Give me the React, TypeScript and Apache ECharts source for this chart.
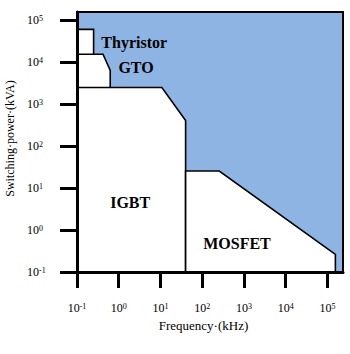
import { useEffect, useRef } from 'react';
import * as echarts from 'echarts';

// Axis ticks (kHz / kVA), log scale
const xTicks = [0.1, 1, 10, 100, 1000, 10000, 100000];
const yTicks = [0.1, 1, 10, 100, 1000, 10000, 100000];
const xMin = 0.1;
const xMax = 236000;
const yMin = 0.1;
const yMax = 158000;

// Device operating regions (frequency kHz, power kVA)
const thyristorF = [0.1, 0.25, 0.25, 0.1];
const thyristorP = [61000, 61000, 0.1, 0.1];
const gtoF = [0.1, 0.42, 0.625, 0.625, 0.1];
const gtoP = [15500, 15500, 6400, 0.1, 0.1];
const igbtF = [0.1, 10.8, 40, 40, 0.1];
const igbtP = [2500, 2500, 410, 0.1, 0.1];
const mosfetF = [40, 40, 256, 155000, 155000];
const mosfetP = [0.1, 25.6, 25.6, 0.264, 0.1];

// Region labels
const labelNames = ['Thyristor', 'GTO', 'IGBT', 'MOSFET'];
const labelF = [2.35, 2.6, 1.88, 680];
const labelP = [30000, 7600, 4.6, 0.48];

const FONT = 'Liberation Serif, Times New Roman, serif';

function polygonSeries(name: string, fs: number[], ps: number[]) {
  return {
    type: 'custom',
    name,
    coordinateSystem: 'cartesian2d',
    silent: true,
    clip: true,
    data: [[fs[0], ps[0]]],
    renderItem: (_params: any, api: any) => ({
      type: 'polygon',
      shape: { points: fs.map((f, i) => api.coord([f, ps[i]])) },
      style: { fill: '#ffffff', stroke: '#000000', lineWidth: 1.6 },
    }),
  };
}

const expFmt = (v: number) => `10{sup|${Math.round(Math.log10(v))}}`;

const labelStyle = {
  fontFamily: FONT,
  fontSize: 12,
  color: '#000',
  rich: {
    sup: { fontFamily: FONT, fontSize: 8, color: '#000', verticalAlign: 'top' },
  },
};

export default function App() {
  const ref = useRef<HTMLDivElement>(null);
  useEffect(() => {
    if (!ref.current) return;
    const chart = echarts.init(ref.current, null, { renderer: 'svg' });
    chart.setOption({
      animation: false,
      backgroundColor: '#ffffff',
      textStyle: { fontFamily: FONT },
      grid: {
        left: 77,
        right: 7,
        top: 12,
        bottom: 82,
        containLabel: false,
        outerBoundsMode: 'none',
        show: true,
        backgroundColor: '#8db4e2',
        borderColor: '#000',
        borderWidth: 2,
      },
      xAxis: {
        type: 'log',
        logBase: 10,
        min: xMin,
        max: xMax,
        z: 10,
        name: 'Frequency·(kHz)',
        nameLocation: 'middle',
        nameGap: 46,
        nameTextStyle: { fontFamily: FONT, fontSize: 13, color: '#000', padding: [0, 13, 0, 0] },
        axisLine: { lineStyle: { color: '#000', width: 3 } },
        axisTick: { show: true, length: 16, customValues: xTicks, lineStyle: { color: '#000', width: 3 } },
        axisLabel: { ...labelStyle, customValues: xTicks, margin: 30, formatter: expFmt },
        splitLine: { show: false },
        minorTick: { show: false },
      },
      yAxis: {
        type: 'log',
        logBase: 10,
        min: yMin,
        max: yMax,
        z: 10,
        name: 'Switching·power·(kVA)',
        nameLocation: 'middle',
        nameGap: 61,
        nameTextStyle: { fontFamily: FONT, fontSize: 12, color: '#000', padding: [0, 0, 0, 7] },
        axisLine: { lineStyle: { color: '#000', width: 3 } },
        axisTick: { show: true, length: 17, customValues: yTicks, lineStyle: { color: '#000', width: 3 } },
        axisLabel: { ...labelStyle, customValues: yTicks, margin: 50, align: 'left', formatter: expFmt },
        splitLine: { show: false },
        minorTick: { show: false },
      },
      series: [
        polygonSeries('Thyristor', thyristorF, thyristorP),
        polygonSeries('GTO', gtoF, gtoP),
        polygonSeries('IGBT', igbtF, igbtP),
        polygonSeries('MOSFET', mosfetF, mosfetP),
        {
          type: 'custom',
          name: 'labels',
          coordinateSystem: 'cartesian2d',
          silent: true,
          z: 5,
          data: labelNames.map((_, i) => [labelF[i], labelP[i]]),
          renderItem: (params: any, api: any) => {
            const p = api.coord([api.value(0), api.value(1)]);
            return {
              type: 'text',
              x: p[0],
              y: p[1],
              style: {
                text: labelNames[params.dataIndex],
                fill: '#000',
                fontFamily: FONT,
                fontSize: 16,
                fontWeight: 'bold',
                align: 'center',
                verticalAlign: 'middle',
              },
            };
          },
        },
      ],
    });
    return () => chart.dispose();
  }, []);
  return (
    <div
      ref={ref}
      style={{ position: 'fixed', left: 0, top: 0, width: 350, height: 354, background: '#fff' }}
    />
  );
}
